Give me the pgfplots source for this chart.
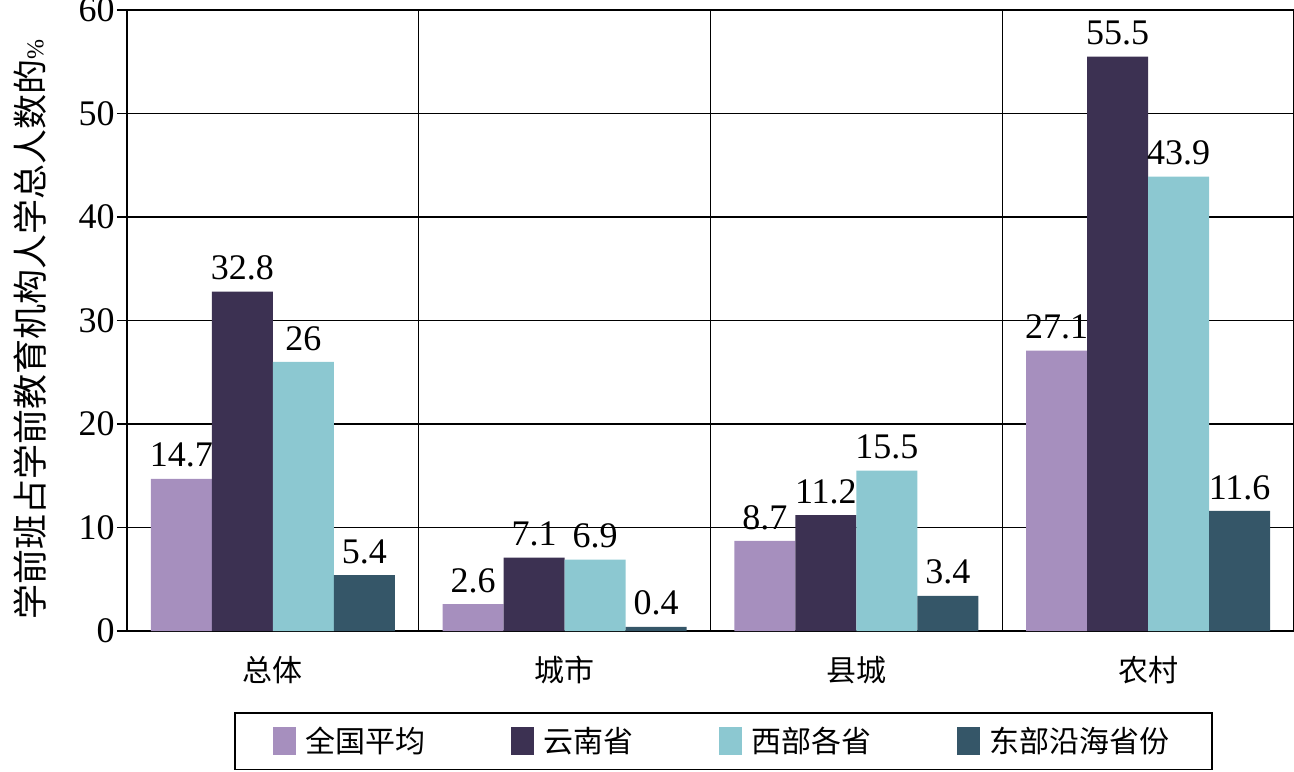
\documentclass[border=0pt]{standalone}
\usepackage{pgfplots}
\pgfplotsset{compat=1.18}
\usepackage{fontspec}
\setmainfont{Liberation Serif}
\newfontfamily\cjk{Noto Sans CJK SC}
\definecolor{c1}{RGB}{166,143,190}
\definecolor{c2}{RGB}{60,49,82}
\definecolor{c3}{RGB}{140,200,209}
\definecolor{c4}{RGB}{53,86,104}
\begin{document}
\begin{tikzpicture}
\path[use as bounding box] (-63.5pt,-70pt) rectangle (583.5pt,315.5pt);
\begin{axis}[
  scale only axis,
  width=583.5pt, height=310.5pt,
  xmin=0.5, xmax=4.5, ymin=0, ymax=60,
  enlarge x limits=false,
  ybar=0pt, bar width=30.5pt,
  axis line style={black, line width=0.8pt},
  xtick={1,2,3,4},
  xticklabels={总体,城市,县城,农村},
  x tick label style={font=\cjk\fontsize{15}{18}\selectfont, yshift=-4pt},
  major x tick style={draw=none},
  extra x ticks={1.5,2.5,3.5},
  extra x tick labels={},
  extra x tick style={grid=major, major tick length=0pt},
  ytick={0,10,...,60},
  ytick pos=left,
  tick align=outside,
  major tick length=5pt,
  tick style={black, line width=0.8pt},
  ymajorgrids=true,
  major grid style={black, line width=0.7pt},
  /pgf/number format/assume math mode=true,
  y tick label style={font=\fontsize{18}{21}\selectfont, inner xsep=1pt},
  ylabel={{\cjk 学前班占学前教育机构人学总人数的}{\fontsize{12}{14}\selectfont\%}},
  ylabel style={at={(axis description cs:-0.0831,0.485)}, anchor=center, font=\fontsize{17.5}{20}\selectfont},
  nodes near coords,
  nodes near coords style={font=\fontsize{18}{21}\selectfont, black},
  every node near coord/.append style={inner sep=5.5pt},
  legend columns=4,
  legend image code/.code={\path[#1,draw=none] (0pt,-7pt) rectangle (11.5pt,7pt);},
  legend style={at={(0.0917,0)}, anchor=north west, yshift=-40.5pt,
    draw=black, line width=0.8pt, font=\cjk\fontsize{15}{18}\selectfont,
    inner xsep=19pt, inner ysep=5pt,
    /tikz/every odd column/.append style={column sep=3pt},
    /tikz/every even column/.append style={column sep=40.5pt}},
]
\addplot[fill=c1, draw=none] coordinates {(1,14.7) (2,2.6) (3,8.7) (4,27.1)};
\addplot[fill=c2, draw=none] coordinates {(1,32.8) (2,7.1) (3,11.2) (4,55.5)};
\addplot[fill=c3, draw=none] coordinates {(1,26) (2,6.9) (3,15.5) (4,43.9)};
\addplot[fill=c4, draw=none] coordinates {(1,5.4) (2,0.4) (3,3.4) (4,11.6)};
\legend{全国平均,云南省,西部各省,东部沿海省份}
\end{axis}
\end{tikzpicture}
\end{document}
